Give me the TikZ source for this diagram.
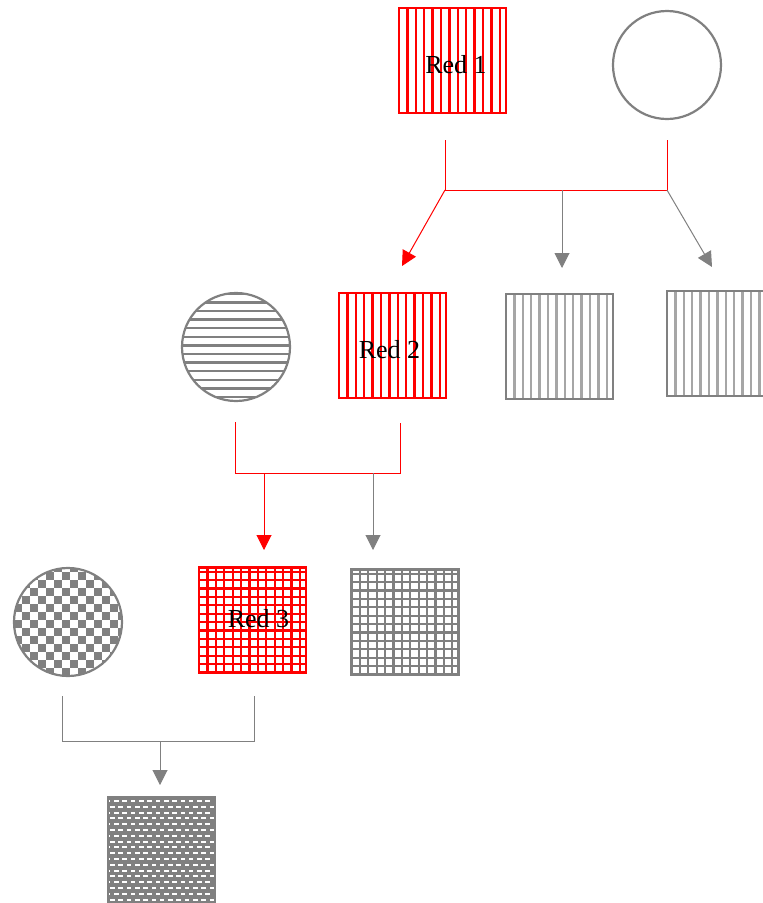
\documentclass[tikz,border=0pt]{standalone}
\usepackage{fontspec}
\setmainfont{Liberation Serif}
\usetikzlibrary{arrows.meta}

\tikzset{
  % stripe, grid and check fillings, drawn with loops
  vstripes/.style={path picture={
    \coordinate (pp) at (path picture bounding box.south west);
    \foreach \i in {1,...,12}
      \draw[#1, line width=2.4pt] ([xshift=\i*8.4pt]pp) -- ++(0,110);}},
  hstripes/.style={path picture={
    \coordinate (pp) at (path picture bounding box.south west);
    \foreach \i in {0,...,12}
      \draw[#1, line width=2.4pt] ([yshift=4pt+\i*8.6pt]pp) -- ++(110,0);}},
  gridfill/.style={path picture={
    \coordinate (pp) at (path picture bounding box.south west);
    \foreach \i in {1,...,12} {
      \draw[#1, line width=2.2pt] ([xshift=\i*8.4pt]pp) -- ++(0,110);
      \draw[#1, line width=2.2pt] ([yshift=\i*8.4pt]pp) -- ++(110,0);}}},
  checkfill/.style={path picture={
    \coordinate (pp) at (path picture bounding box.south west);
    \foreach \r [evaluate=\r as \off using {mod(\r,2)*8}] in {0,...,13}
      \foreach \c in {0,...,6}
        \fill[#1] ([shift={({\c*16+\off},{\r*8})}]pp) rectangle ++(8,8);}},
  brickfill/.style={path picture={
    \coordinate (pp) at (path picture bounding box.south west);
    \fill[gray] (pp) rectangle ++(110,110);
    \foreach \r [evaluate=\r as \off using {mod(\r,2)*4.15}] in {0,...,18}
      \foreach \c in {-1,...,13}
        \fill[white] ([shift={({\c*8.3+\off+2},{\r*5.8+2})}]pp) rectangle ++(4.6,1.9);}},
  box/.style={rectangle, line width=2.2pt, minimum width=107pt, minimum height=105pt,
    inner sep=0pt, font=\fontsize{26}{30}\selectfont},
  redbox/.style={box, draw=red, vstripes=red},
  redgrid/.style={box, draw=red, gridfill=red},
  greybox/.style={box, draw=gray, vstripes=gray!70},
  greygrid/.style={box, draw=gray, gridfill=gray},
  greybrick/.style={box, draw=gray, brickfill},
  blob/.style={circle, draw=gray, line width=2.2pt, minimum size=108pt, inner sep=0pt},
  redline/.style={draw=red, line width=1pt},
  greyline/.style={draw=gray, line width=1pt},
  tip/.style={-{Triangle[length=15pt, width=15pt]}},
}

\begin{document}
\begin{tikzpicture}[x=1pt, y=1pt]
\useasboundingbox (0,0) rectangle (763,-903);

% first generation
\node[redbox, label={[xshift=3.5pt, yshift=-4.5pt, font=\fontsize{26}{30}\selectfont]center:Red 1}] (red1) at (452.5,-60.5) {};
\node[blob] (circ1) at (667,-65) {};

% second generation
\node[blob, hstripes=gray] (circ2) at (236,-347) {};
\node[redbox, label={[xshift=-3pt, yshift=-4.5pt, font=\fontsize{26}{30}\selectfont]center:Red 2}] (red2) at (392.5,-345.5) {};
\node[greybox] (grey1) at (559.5,-346.5) {};
\node[greybox] (grey2) at (720.5,-343.5) {};

% third generation
\node[blob, checkfill=gray] (circ3) at (68,-622) {};
\node[redgrid, label={[xshift=6pt, yshift=1pt, font=\fontsize{26}{30}\selectfont]center:Red 3}] (red3) at (252.5,-620) {};
\node[greygrid] (grey3) at (405,-622) {};

% fourth generation
\node[greybrick] (grey4) at (161.5,-850) {};

% family lines
\coordinate (j1) at (445,-190);
\coordinate (j2) at (667,-190);
\coordinate (j3) at (562,-190);
\draw[redline] ([yshift=-26pt]red1.south -| j1) -- (j1) -- (j2) -- ([yshift=-20pt]circ1.south);
\draw[redline, tip, red] (j1) -- (402,-266);
\draw[greyline, tip] (j3) -- (562,-268);
\draw[greyline, tip] (j2) -- (712,-267);

\coordinate (k1) at (235,-473);
\coordinate (k2) at (400,-473);
\coordinate (k3) at (264,-473);
\coordinate (k4) at (373,-473);
\draw[redline] ([yshift=-20pt]circ2.south -| k1) -- (k1) -- (k2) -- ([yshift=-24pt]red2.south -| k2);
\draw[redline, tip, red] (k3) -- (264,-550);
\draw[greyline, tip] (k4) -- (373,-550);

\coordinate (m1) at (62,-741);
\coordinate (m2) at (254,-741);
\coordinate (m3) at (160,-741);
\draw[greyline] ([yshift=-19pt]circ3.south -| m1) -- (m1) -- (m2) -- ([yshift=-22pt]red3.south -| m2);
\draw[greyline, tip] (m3) -- (160,-785);
\end{tikzpicture}
\end{document}
